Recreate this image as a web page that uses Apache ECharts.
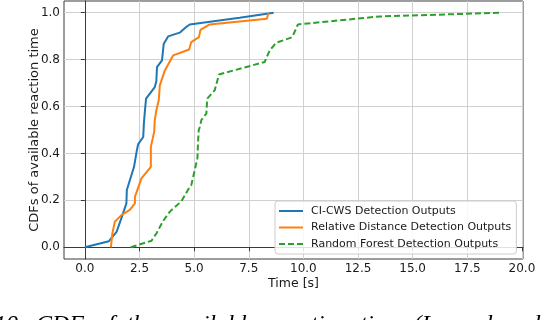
<!DOCTYPE html>
<html>
<head>
<meta charset="utf-8">
<script src="https://cdn.jsdelivr.net/npm/echarts@6/dist/echarts.min.js"></script>
<style>
    html, body { margin: 0; padding: 0; background: #fff; }
    #chart-container { width: 558px; height: 320px; }
</style>
</head>
<body>
<div id="chart-container"></div>
<script>
// tick labels
var xTicks = [0, 2.5, 5, 7.5, 10, 12.5, 15, 17.5, 20];
var yTicks = [0, 0.2, 0.4, 0.6, 0.8, 1.0];

var seriesNames = ['CI-CWS Detection Outputs', 'Relative Distance Detection Outputs', 'Random Forest Detection Outputs'];

// CI-CWS
var ciCwsTime = [0, 1.1, 1.45, 1.72, 1.9, 1.92, 2.25, 2.38, 2.44, 2.67, 2.7, 2.75, 2.8, 3.2, 3.27, 3.3, 3.53, 3.61, 3.81, 4.34, 4.65, 4.8, 7.08, 8.64];
var ciCwsCdf  = [0, 0.026, 0.066, 0.137, 0.187, 0.244, 0.343, 0.414, 0.44, 0.47, 0.527, 0.584, 0.634, 0.683, 0.708, 0.768, 0.797, 0.868, 0.899, 0.915, 0.94, 0.95, 0.979, 1.0];

// Relative distance
var relDistTime = [1.19, 1.26, 1.37, 1.67, 2.06, 2.29, 2.29, 2.59, 3.02, 3.02, 3.17, 3.2, 3.27, 3.38, 3.43, 3.66, 4.04, 4.77, 4.87, 5.22, 5.29, 5.71, 8.33, 8.4];
var relDistCdf  = [0, 0.06, 0.109, 0.137, 0.159, 0.187, 0.215, 0.294, 0.343, 0.428, 0.492, 0.542, 0.584, 0.627, 0.69, 0.754, 0.818, 0.843, 0.875, 0.896, 0.927, 0.95, 0.974, 1.0];

// Random forest
var rfTime = [2.1, 3.05, 3.28, 3.58, 3.89, 4.42, 4.72, 4.87, 5.03, 5.15, 5.18, 5.21, 5.26, 5.33, 5.56, 5.6, 5.94, 6.14, 8.23, 8.46, 8.76, 9.49, 9.75, 13.48, 19.04];
var rfCdf  = [0, 0.028, 0.06, 0.112, 0.152, 0.196, 0.245, 0.265, 0.33, 0.38, 0.45, 0.499, 0.513, 0.542, 0.57, 0.634, 0.669, 0.737, 0.79, 0.84, 0.872, 0.896, 0.95, 0.984, 1.0];

function pares(xs, ys) {
    return xs.map(function (x, i) { return [x, ys[i]]; });
}

var fonte = '"DejaVu Sans", sans-serif';
var corTexto = '#1a1a1a';

var dom = document.getElementById('chart-container');
var myChart = echarts.init(dom, null, { renderer: 'canvas' });

var option = {
    animation: false,
    backgroundColor: '#fff',
    grid: {
        left: 64, right: 35, top: 1, bottom: 61,
        show: true, borderColor: '#3a3a3a', borderWidth: 1
    },
    xAxis: {
        type: 'value',
        min: -0.955, max: 20.05,
        name: 'Time [s]',
        nameLocation: 'middle',
        nameGap: 18,
        nameMoveOverlap: false,
        nameTextStyle: { fontFamily: fonte, fontSize: 12.5, color: corTexto },
        axisLine: { show: true, lineStyle: { color: '#3a3a3a', width: 1 } },
        axisTick: { show: true, length: 4, customValues: xTicks, lineStyle: { color: '#3a3a3a' } },
        axisLabel: {
            customValues: xTicks, margin: 4,
            fontFamily: fonte, fontSize: 12, color: corTexto,
            formatter: function (v) { return v.toFixed(1); }
        },
        splitLine: { show: true, lineStyle: { color: '#d0d0d0', width: 1 } }
    },
    yAxis: {
        type: 'value',
        min: -0.05, max: 1.05,
        name: 'CDFs of available reaction time',
        nameLocation: 'middle',
        nameGap: 23,
        nameMoveOverlap: false,
        nameTextStyle: { fontFamily: fonte, fontSize: 13, color: corTexto },
        axisLine: { show: true, lineStyle: { color: '#3a3a3a', width: 1 } },
        axisTick: { show: true, length: 4, customValues: yTicks, lineStyle: { color: '#3a3a3a' } },
        axisLabel: {
            customValues: yTicks, margin: 4,
            fontFamily: fonte, fontSize: 12, color: corTexto,
            formatter: function (v) { return v.toFixed(1); }
        },
        splitLine: { show: true, lineStyle: { color: '#d0d0d0', width: 1 } }
    },
    legend: {
        orient: 'vertical',
        left: 275, top: 201,
        padding: [3, 5, 3, 3],
        itemWidth: 24, itemHeight: 14, itemGap: 2.5,
        itemStyle: { opacity: 0 },
        backgroundColor: 'rgba(255,255,255,0.85)',
        borderColor: '#cccccc', borderWidth: 1, borderRadius: 3,
        textStyle: { fontFamily: fonte, fontSize: 11, color: corTexto, lineHeight: 14, padding: [0, 0, 0, 3] },
        data: seriesNames
    },
    graphic: [{
        type: 'text',
        x: -6, y: 313,
        style: {
            text: '10.  CDF  of  the  available  reaction  time  (Legend  and',
            font: 'italic 24px "Liberation Serif", serif',
            fill: '#000'
        }
    }],
    series: [
        {
            name: seriesNames[0], type: 'line', symbol: 'none',
            data: pares(ciCwsTime, ciCwsCdf),
            lineStyle: { color: '#1f77b4', width: 2 },
            itemStyle: { color: '#1f77b4' }
        },
        {
            name: seriesNames[1], type: 'line', symbol: 'none',
            data: pares(relDistTime, relDistCdf),
            lineStyle: { color: '#ff7f0e', width: 2 },
            itemStyle: { color: '#ff7f0e' }
        },
        {
            name: seriesNames[2], type: 'line', symbol: 'none',
            data: pares(rfTime, rfCdf),
            lineStyle: { color: '#2ca02c', width: 2, type: [6, 3] },
            itemStyle: { color: '#2ca02c' }
        }
    ]
};

myChart.setOption(option);
window.addEventListener('resize', myChart.resize);
</script>
</body>
</html>
